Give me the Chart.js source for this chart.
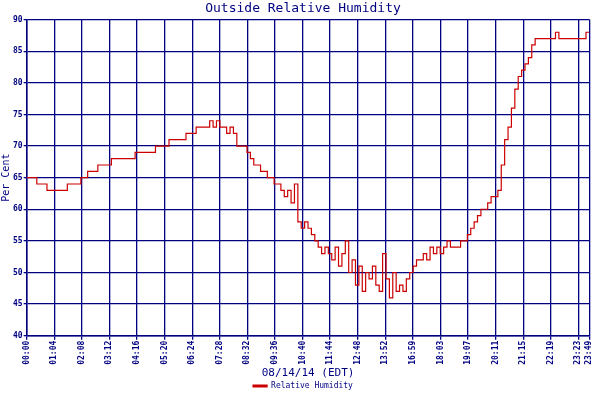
<!DOCTYPE html>
<html><head><meta charset="utf-8">
<script src="https://cdn.jsdelivr.net/npm/chart.js@4"></script>
<style>html,body{margin:0;background:#fff}#wrap{width:600px;height:400px}</style>
</head><body><div id="wrap"><canvas id="c"></canvas></div>
<script>
// tick labels along the bottom, one per gridline (the last one is a short interval)
const tickLabels = ["00:00","01:04","02:08","03:12","04:16","05:20","06:24","07:28","08:32","09:36","10:40",
  "11:44","12:48","13:52","16:59","18:03","19:07","20:11","21:15","22:19","23:23","23:49"];
const tickPos = [0,1,2,3,4,5,6,7,8,9,10,11,12,13,14,15,16,17,18,19,20,20.4];
// humidity readings, about 8 per tick interval
const humidity = [65,65,65,64,64,64,63,63,63,63,63,63,64,64,64,64,65,65,66,66,66,67,67,67,67,
  68,68,68,68,68,68,68,69,69,69,69,69,69,70,70,70,70,71,71,71,71,71,72,72,72,73,73,73,73,
  74,73,74,73,73,72,73,72,70,70,70,69,68,67,67,66,66,65,65,64,64,63,62,63,61,64,58,57,58,57,
  56,55,54,53,54,53,52,54,51,53,55,50,52,48,51,47,50,49,51,48,47,53,49,46,50,47,48,47,49,50,
  51,52,52,53,52,54,53,54,53,54,55,54,54,54,55,55,56,57,58,59,60,60,61,62,62,63,67,71,73,76,
  79,81,82,83,84,86,87,87,87,87,87,87,88,87,87,87,87,87,87,87,87,88,88];
const step = 20.4 / (humidity.length - 1);
const points = humidity.map((v, k) => ({ x: k * step, y: v }));

const navy = "#000080";
const font = { family: "DejaVu Sans Mono", size: 8, weight: "bold" };
new Chart(document.getElementById("c"), {
  type: "line",
  data: { datasets: [{ label: "Relative Humidity", data: points, borderColor: "#cc0000", backgroundColor: "#cc0000",
    borderWidth: 1.2, pointRadius: 0, stepped: true }] },
  options: {
    responsive: true, maintainAspectRatio: false, animation: false,
    layout: { padding: { left: 0, right: -6, top: 0, bottom: 0 } },
    plugins: {
      title: { display: true, text: "Outside Relative Humidity", color: navy,
        font: { family: "DejaVu Sans Mono", size: 13, weight: "normal" }, padding: { top: 1, bottom: 3 } },
      legend: { position: "bottom", labels: { color: navy, font: { family: "DejaVu Sans Mono", size: 8 },
        boxWidth: 14, boxHeight: 2, padding: 2 } },
      tooltip: { enabled: false },
    },
    scales: {
      x: {
        type: "linear", min: 0, max: 20.4,
        afterBuildTicks: (axis) => { axis.ticks = tickPos.map((v) => ({ value: v })); },
        grid: { color: navy, lineWidth: 1.3, tickLength: 4 }, border: { color: navy, width: 1.5 },
        ticks: { color: navy, font, autoSkip: false, minRotation: 90, maxRotation: 90, padding: 1,
          callback: (v) => tickLabels[tickPos.indexOf(v)] ?? "" },
        title: { display: true, text: "08/14/14 (EDT)", color: navy,
          font: { family: "DejaVu Sans Mono", size: 11 }, padding: { top: 1, bottom: 0 } },
      },
      y: {
        min: 40, max: 90,
        grid: { color: navy, lineWidth: 1.3, tickLength: 3 }, border: { color: navy, width: 1.5 },
        ticks: { stepSize: 5, color: navy, font, padding: 1 },
        title: { display: true, text: "Per Cent", color: navy,
          font: { family: "DejaVu Sans Mono", size: 10 }, padding: 0 },
      },
    },
  },
});
</script></body></html>
